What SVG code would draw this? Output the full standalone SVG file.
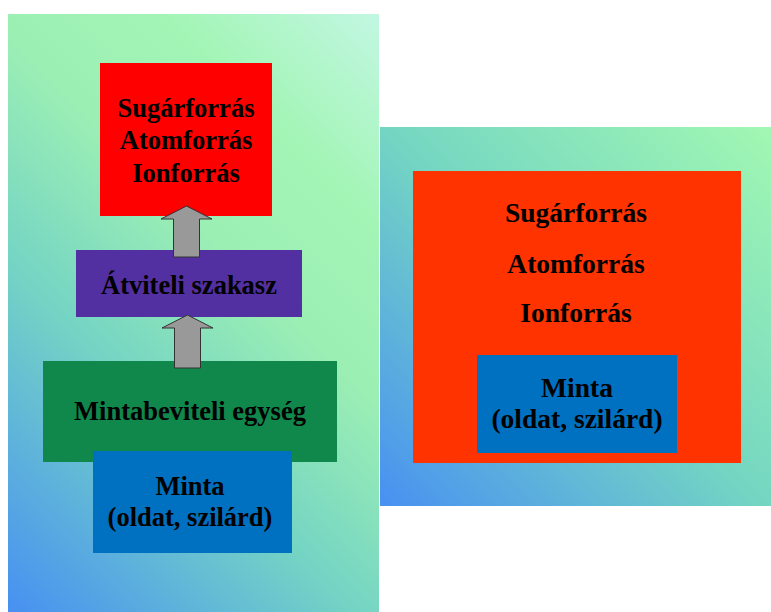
<svg xmlns="http://www.w3.org/2000/svg" width="771" height="612" viewBox="0 0 771 612">
<style>
  text { font-family: "Liberation Serif", "Times New Roman", serif; font-weight: bold; fill: #000; text-anchor: middle; }
  .l { font-size: 26.5px; }
  .r { font-size: 27.5px; }
  .arrow { fill: #999999; stroke: #333333; stroke-width: 1; stroke-linejoin: miter; }
</style>
<defs>
  <linearGradient id="gl" gradientUnits="userSpaceOnUse" x1="8" y1="612" x2="492.5" y2="127.5">
    <stop offset="0" stop-color="#4790f2"/>
    <stop offset="0.36" stop-color="#74d4c4"/>
    <stop offset="0.6" stop-color="#9cefb3"/>
    <stop offset="0.78" stop-color="#a3f5b6"/>
    <stop offset="1" stop-color="#c2f7e2"/>
  </linearGradient>
  <linearGradient id="gr" gradientUnits="userSpaceOnUse" x1="380" y1="506" x2="765" y2="121">
    <stop offset="0" stop-color="#4890f2"/>
    <stop offset="0.5" stop-color="#74d6c2"/>
    <stop offset="1" stop-color="#a2f8b2"/>
  </linearGradient>
</defs>
<g id="panel-left"><rect x="8" y="14" width="371" height="598" fill="url(#gl)"/></g>
<g id="panel-right"><rect x="380" y="127" width="391" height="379" fill="url(#gr)"/></g>

<g id="node-sources-left">
  <rect x="100" y="63" width="172" height="153" fill="#ff0000"/>
  <text class="l" x="186" y="117">Sugárforrás</text>
  <text class="l" x="186" y="149">Atomforrás</text>
  <text class="l" x="186" y="182">Ionforrás</text>
</g>
<g id="node-transfer">
  <rect x="76" y="250" width="226" height="67" fill="#5330a2"/>
  <text class="l" x="189" y="294">Átviteli szakasz</text>
</g>
<g id="node-inlet">
  <rect x="43" y="361" width="294" height="101" fill="#10884c"/>
  <text class="l" x="190" y="420">Mintabeviteli egység</text>
</g>
<g id="node-sample-left">
  <rect x="93" y="451" width="199" height="102" fill="#0070c0"/>
  <text class="l" x="190" y="495">Minta</text>
  <text class="l" x="190" y="526">(oldat, szilárd)</text>
</g>

<g id="node-sources-right">
  <rect x="413" y="171" width="328" height="292" fill="#ff3300"/>
  <text class="r" x="576" y="222">Sugárforrás</text>
  <text class="r" x="576" y="273">Atomforrás</text>
  <text class="r" x="576" y="322">Ionforrás</text>
</g>
<g id="node-sample-right">
  <rect x="477" y="355" width="200" height="98" fill="#0070c0"/>
  <text class="r" x="577" y="397">Minta</text>
  <text class="r" x="577" y="428">(oldat, szilárd)</text>
</g>

<g id="connectors">
  <polygon class="arrow" points="186.5,206 212,219 199.5,219 199.5,257 173.5,257 173.5,219 161,219"/>
  <polygon class="arrow" points="187.5,315 213,328 200.5,328 200.5,368 174.5,368 174.5,328 162,328"/>
</g>
</svg>
